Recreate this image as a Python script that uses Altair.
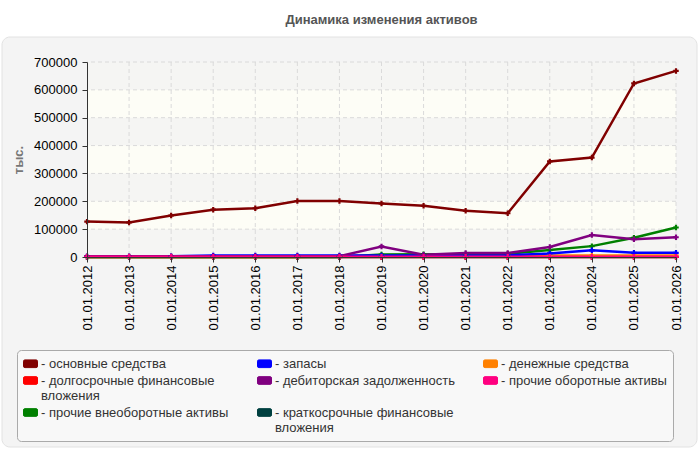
import altair as alt
import pandas as pd

dates = ["01.01.2012", "01.01.2013", "01.01.2014", "01.01.2015", "01.01.2016",
         "01.01.2017", "01.01.2018", "01.01.2019", "01.01.2020", "01.01.2021",
         "01.01.2022", "01.01.2023", "01.01.2024", "01.01.2025", "01.01.2026"]

osnovnye = [127000, 124000, 149000, 170000, 175000, 201000, 201000, 192000,
            184000, 166000, 157000, 343000, 357000, 623000, 668000]
zapasy = [2000, 2000, 3000, 5000, 5000, 5000, 5000, 5000, 5000, 5000, 6000,
          13000, 24000, 15000, 15000]
denezhnye = [0, 0, 0, 0, 0, 0, 4000, 4000, 4000, 4000, 4000, 5000, 5000, 5000, 5000]
dolgosrochnye = [0, 0, 0, 0, 0, 0, 0, 0, 0, 0, 0, 0, 0, 0, 0]
debitorskaya = [3000, 3000, 3000, 3000, 3000, 3000, 3000, 38000, 8000, 14000,
                14000, 36000, 79000, 64000, 71000]
prochie_obor = [1000, 1000, 1000, 1000, 1000, 1000, 1000, 1000, 1000, 1000,
                1000, 1000, 1000, 1000, 1000]
prochie_vneobor = [0, 0, 0, 0, 0, 0, 0, 9000, 10000, 10000, 12000, 25000,
                   39000, 69000, 106000]
kratkosrochnye = [0, 0, 0, 0, 0, 0, 0, 0, 0, 0, 0, 0, 0, 0, 0]

y_ticks = [0, 100000, 200000, 300000, 400000, 500000, 600000, 700000]

names = {
    "osn": "основные средства",
    "zap": "запасы",
    "den": "денежные средства",
    "dol": "долгосрочные финансовые вложения",
    "deb": "дебиторская задолженность",
    "pob": "прочие оборотные активы",
    "pvn": "прочие внеоборотные активы",
    "kra": "краткосрочные финансовые вложения",
}
series_values = {
    "osn": osnovnye, "zap": zapasy, "den": denezhnye, "dol": dolgosrochnye,
    "deb": debitorskaya, "pob": prochie_obor, "pvn": prochie_vneobor,
    "kra": kratkosrochnye,
}
legend_keys = ["osn", "dol", "pvn", "zap", "deb", "kra", "den", "pob"]
colors = ["#800000", "#ff0000", "#008000", "#0000ff", "#800080", "#004040",
          "#ff8000", "#ff0080"]
draw_keys = ["kra", "dol", "den", "pvn", "zap", "deb", "pob"]

band_lo = [0, 200000, 400000, 600000]
band_hi = [100000, 300000, 500000, 700000]

rows = []
for k in draw_keys + ["osn"]:
    for d, v in zip(dates, series_values[k]):
        rows.append({"date": d, "value": v, "series": names[k]})
df = pd.DataFrame(rows)
bands = pd.DataFrame({"lo": band_lo, "hi": band_hi})

sym = ("M-0.8,-0.55 L0.8,-0.55 Q1,-0.55 1,-0.35 L1,0.35 Q1,0.55 0.8,0.55 "
       "L-0.8,0.55 Q-1,0.55 -1,0.35 L-1,-0.35 Q-1,-0.55 -0.8,-0.55 Z")

label_expr = ("datum.label == 'долгосрочные финансовые вложения' ? "
              "['- долгосрочные финансовые', 'вложения'] : "
              "datum.label == 'краткосрочные финансовые вложения' ? "
              "['- краткосрочные финансовые', 'вложения'] : '- ' + datum.label")

FONT = "Liberation Sans"

y_scale = alt.Scale(domain=[0, 700000], nice=False)
x_scale = alt.Scale(type="point", padding=0)

x_axis = alt.Axis(title=None, labelAngle=-90, labelFontSize=13, labelFont=FONT,
                  labelColor="#000", labelPadding=3, tickSize=5, tickColor="#333",
                  domainColor="#333", grid=False, zindex=1, labelOverlap=False)
y_axis = alt.Axis(title="тыс.", values=y_ticks, labelOverlap=False,
                  format="d", titleFont=FONT, titleFontSize=13, titleColor="#777",
                  titleFontWeight="bold", titlePadding=8, labelFontSize=13, labelFont=FONT,
                  labelColor="#000", labelPadding=5, tickSize=5, tickColor="#333",
                  domainColor="#333", grid=False, zindex=1)

panel = alt.Chart(pd.DataFrame({"a": [0]})).mark_rect(
    fill="#f4f4f4", stroke="#e2e2e2", cornerRadius=8
).encode(x=alt.value(-85), x2=alt.value(610), y=alt.value(-25), y2=alt.value(385))

plot_bg = alt.Chart(pd.DataFrame({"a": [0]})).mark_rect(
    fill="#fdfdf6"
).encode(x=alt.value(0), x2=alt.value(589), y=alt.value(0), y2=alt.value(195))

band_layer = alt.Chart(bands).mark_rect(fill="#f5f5f3").encode(
    y=alt.Y("lo:Q", scale=y_scale, axis=y_axis), y2="hi:Q"
)

hgrid = alt.Chart(pd.DataFrame({"t": y_ticks[1:]})).mark_rule(
    color="#dadada", strokeDash=[4, 3], strokeWidth=1
).encode(y=alt.Y("t:Q", scale=y_scale, axis=y_axis))

vgrid = alt.Chart(pd.DataFrame({"d": dates[1:]})).mark_rule(
    color="#dadada", strokeDash=[4, 3], strokeWidth=1
).encode(x=alt.X("d:N", sort=dates, scale=x_scale, axis=x_axis))

x_enc = alt.X("date:N", sort=dates, scale=x_scale, axis=x_axis)
y_enc = alt.Y("value:Q", scale=y_scale, axis=y_axis)
color_enc = alt.Color("series:N",
                      scale=alt.Scale(domain=[names[k] for k in legend_keys], range=colors),
                      legend=alt.Legend(title=None, orient="none", legendX=-70, legendY=288,
                                        columns=3, gridAlign="each", columnPadding=26, rowPadding=2,
                                        fillColor="#f8f8f8", strokeColor="#aaaaaa", cornerRadius=4,
                                        padding=6, labelFont=FONT, labelFontSize=13,
                                        labelColor="#333", labelLimit=300, labelOffset=3,
                                        labelExpr=label_expr, symbolType=sym, symbolSize=196,
                                        symbolStrokeColor="#555", symbolStrokeWidth=1,
                                        symbolOpacity=1))

lines = alt.Chart(df).mark_line(
    strokeWidth=2.5,
    point=alt.OverlayMarkDef(shape="cross", size=30, filled=True),
).encode(x=x_enc, y=y_enc, color=color_enc)

chart = alt.layer(panel, plot_bg, band_layer, hgrid, vgrid, lines).properties(
    width=589, height=195,
    autosize=alt.AutoSizeParams(type="none"),
    padding={"left": 87, "top": 62, "right": 24, "bottom": 193},
    title=alt.TitleParams(text="Динамика изменения активов", font=FONT, fontSize=13,
                          fontWeight="bold", color="#555", anchor="middle", offset=10),
).configure_view(stroke="#dddddd").configure(background="white")

chart.save("out.html", embed_options={"renderer": "svg", "actions": False})
